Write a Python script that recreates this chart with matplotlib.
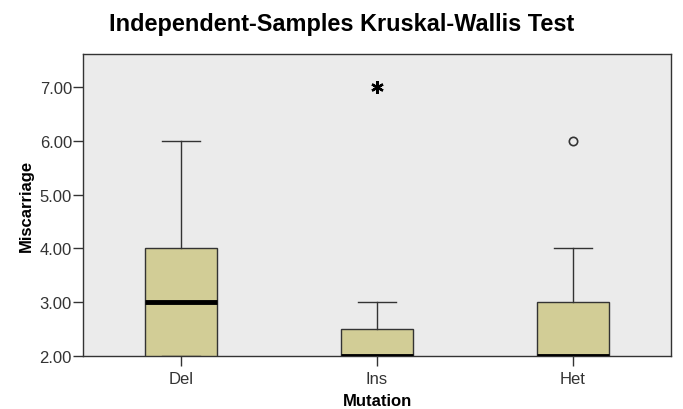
import matplotlib
matplotlib.use("Agg")
import matplotlib.pyplot as plt

# values
groups = ["Del", "Ins", "Het"]
q1 = [2.0, 2.0, 2.0]
median = [3.0, 2.0, 2.0]
q3 = [4.0, 2.5, 3.0]
whis_lo = [2.0, 2.0, 2.0]
whis_hi = [6.0, 3.0, 4.0]
outliers = {"Het": [6.0]}   # circles
extremes = {"Ins": [7.0]}   # asterisks
yticks = [2, 3, 4, 5, 6, 7]

plt.rcParams["font.family"] = ["Liberation Sans", "DejaVu Sans"]

fig = plt.figure(figsize=(6.83, 4.10), dpi=100)
ax = fig.add_axes([83 / 683, 1 - 357 / 410, 588 / 683, 302 / 410])
ax.set_facecolor("#EBEBEB")

stats = []
for i, g in enumerate(groups):
    stats.append({"label": g, "q1": q1[i], "med": median[i], "q3": q3[i],
                  "whislo": whis_lo[i], "whishi": whis_hi[i], "fliers": []})

pos = list(range(1, len(groups) + 1))
ax.bxp(stats, positions=pos, widths=0.367, patch_artist=True,
       showfliers=False,
       boxprops=dict(facecolor="#D2CD96", edgecolor="#333333", lw=1.0),
       medianprops=dict(color="black", lw=3.5, solid_capstyle="butt"),
       whiskerprops=dict(color="#333333", lw=1.0),
       capprops=dict(color="#333333", lw=1.0),
       capwidths=0.19, zorder=3)

for i, g in enumerate(groups):
    for v in outliers.get(g, []):
        ax.plot(pos[i], v, marker="o", ms=6, mfc="none", mec="#333333",
                mew=1.2, zorder=4)
    for v in extremes.get(g, []):
        ax.plot(pos[i], v, marker=(6, 2, 0), ms=9, color="black",
                mew=1.7, zorder=4)

ax.set_xlim(0.5, 3.5)
ax.set_ylim(2, 7.61)
ax.set_yticks(yticks)
ax.set_yticklabels([f"{t:.2f}" for t in yticks])
ax.set_xticks(pos)
ax.set_xticklabels(groups)
ax.tick_params(labelsize=12, labelcolor="#333333", color="#333333",
               length=7, width=1)
ax.tick_params(axis="y", pad=1)
ax.tick_params(axis="x", pad=3.5)
for s in ax.spines.values():
    s.set_color("#333333")
    s.set_linewidth(1.0)

ax.set_ylabel("Miscarriage", fontsize=12, fontweight="bold", labelpad=4)
ax.set_xlabel("Mutation", fontsize=12, fontweight="bold", labelpad=5)
fig.text(0.5, 1 - 25 / 410, "Independent-Samples Kruskal-Wallis Test",
         ha="center", va="center", fontsize=16.9, fontweight="bold")

fig.savefig("out.png", dpi=100)
